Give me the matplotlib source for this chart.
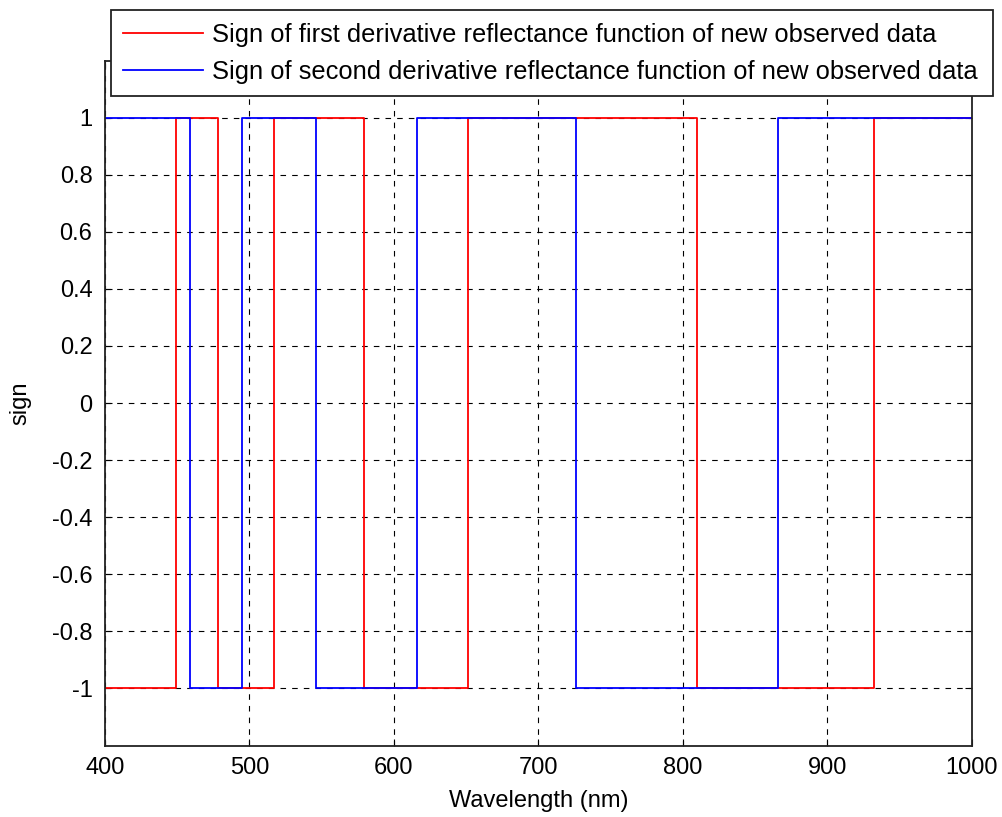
import matplotlib
matplotlib.use("Agg")
import matplotlib.pyplot as plt

# Sign of derivative reflectance functions (switch points in nm)
wavelength_first = [400, 449, 478, 517, 579, 651, 810, 932, 1000]
sign_first = [-1, 1, -1, 1, -1, 1, -1, 1, 1]

wavelength_second = [400, 459, 495, 546, 616, 726, 866, 1000]
sign_second = [1, -1, 1, -1, 1, -1, 1, 1]

x_ticks = [400, 500, 600, 700, 800, 900, 1000]
y_ticks = [-1, -0.8, -0.6, -0.4, -0.2, 0, 0.2, 0.4, 0.6, 0.8, 1]
y_tick_labels = ["-1", "-0.8", "-0.6", "-0.4", "-0.2", "0", "0.2", "0.4", "0.6", "0.8", "1"]

labels = [
    "Sign of first derivative reflectance function of new observed data",
    "Sign of second derivative reflectance function of new observed data",
]

plt.rcParams["font.family"] = ["Liberation Sans", "DejaVu Sans"]
plt.rcParams["axes.unicode_minus"] = False

W, H = 1003, 817
fig = plt.figure(figsize=(W / 100, H / 100), dpi=100)
ax = fig.add_axes([105 / W, 1 - 745.5 / H, (972 - 105) / W, (745.5 - 60.5) / H])

l1, = ax.plot(wavelength_first, sign_first, drawstyle="steps-post", color="#ff0000", lw=1.3)
l2, = ax.plot(wavelength_second, sign_second, drawstyle="steps-post", color="#0000ff", lw=1.3)

ax.set_xlim(400, 1000)
ax.set_ylim(-1.2, 1.2)
ax.set_xticks(x_ticks)
ax.set_xticklabels([str(v) for v in x_ticks])
ax.set_yticks(y_ticks)
ax.set_yticklabels(y_tick_labels)
ax.tick_params(direction="in", length=5, width=0.8, top=True, right=True,
               labelsize=17, colors="black")
ax.tick_params(axis="x", pad=8)
ax.tick_params(axis="y", pad=9)
ax.grid(True, color="black", linestyle=(0, (5, 5.5)), linewidth=0.8)
ax.set_axisbelow(True)
for s in ax.spines.values():
    s.set_linewidth(1.3)
    s.set_color("#222222")

ax.set_xlabel("Wavelength (nm)", fontsize=17)
ax.set_ylabel("sign", fontsize=17)
ax.xaxis.set_label_coords(0.5, (745.5 - 790) / 685)
ax.yaxis.set_label_coords((20 - 105) / 867, 0.5)
ax.yaxis.label.set_va("center")

leg = fig.legend(
    [l1, l2], labels,
    loc="upper left",
    bbox_to_anchor=(110.7 / W, 1 - 10 / H, 882 / W, 0),
    bbox_transform=fig.transFigure,
    mode="expand",
    fontsize=18.4,
    handlelength=3.1,
    handletextpad=0.36,
    labelspacing=0.5,
    borderpad=0.5,
    borderaxespad=0,
    fancybox=False,
    shadow=False,
    framealpha=1,
    edgecolor="#222222",
)
leg.get_frame().set_linewidth(1.3)
for h in leg.get_lines():
    h.set_linewidth(1.3)

fig.savefig("out.png", dpi=100)
